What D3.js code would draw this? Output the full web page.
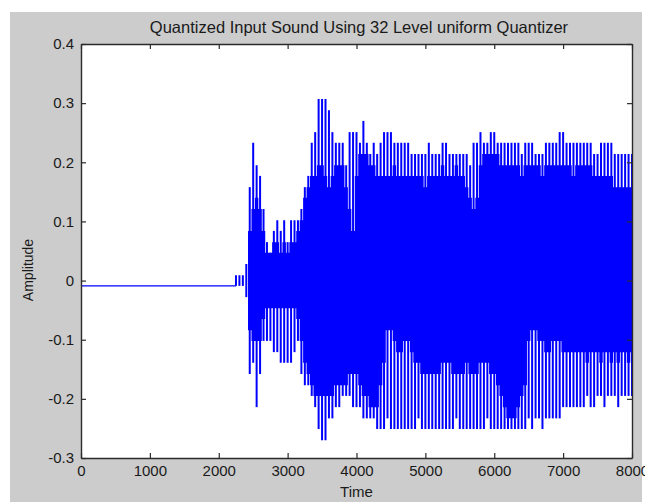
<!DOCTYPE html>
<html>
<head>
<meta charset="utf-8">
<script src="https://cdn.jsdelivr.net/npm/d3@7"></script>
<style>
body { margin: 0; background: #fff; }
</style>
</head>
<body>
<svg></svg>
<script>
var svgWidth = 645;
var svgHeight = 502;
var fontFamily = '"Liberation Sans", Arial, sans-serif';

/* flat part before the sound starts */
var baseTime = [0, 2250];
var baseValue = [-0.009, -0.009];

/* stripes: one every 50 samples from 2250 to 8000 */
var stripeStart = 2250;
var stripeEnd = 8000;
var stripeStep = 50;

/* outer peaks (top of the thin lines) */
var upPeak = [
    0.009, 0.009, 0.009, 0.028, 0.158, 0.233, 0.195, 0.177, 0.121, 0.065,
    0.047, 0.084, 0.102, 0.084, 0.102, 0.065, 0.102, 0.102, 0.102, 0.121,
    0.158, 0.177, 0.233, 0.251, 0.307, 0.307, 0.307, 0.288, 0.251, 0.233,
    0.233, 0.233, 0.195, 0.251, 0.251, 0.251, 0.233, 0.270, 0.233, 0.214,
    0.233, 0.214, 0.233, 0.251, 0.251, 0.251, 0.233, 0.233, 0.233, 0.233,
    0.233, 0.214, 0.214, 0.214, 0.214, 0.214, 0.233, 0.214, 0.214, 0.214,
    0.233, 0.233, 0.214, 0.214, 0.214, 0.214, 0.214, 0.214, 0.195, 0.233,
    0.233, 0.251, 0.233, 0.233, 0.251, 0.251, 0.233, 0.233, 0.233, 0.233,
    0.233, 0.233, 0.233, 0.214, 0.233, 0.233, 0.233, 0.214, 0.214, 0.214,
    0.233, 0.233, 0.233, 0.233, 0.251, 0.251, 0.233, 0.233, 0.233, 0.233,
    0.233, 0.233, 0.233, 0.233, 0.214, 0.214, 0.233, 0.233, 0.233, 0.233,
    0.214, 0.214, 0.214, 0.214, 0.214, 0.214
];

/* top of the solid core */
var upCore = [
    -0.009, -0.009, -0.009, -0.009, 0.084, 0.121, 0.140, 0.121, 0.084, 0.047,
    0.047, 0.065, 0.065, 0.047, 0.065, 0.047, 0.065, 0.065, 0.084, 0.102,
    0.140, 0.158, 0.177, 0.177, 0.195, 0.195, 0.177, 0.158, 0.177, 0.195,
    0.195, 0.195, 0.158, 0.121, 0.084, 0.177, 0.214, 0.214, 0.214, 0.195,
    0.195, 0.177, 0.177, 0.177, 0.177, 0.177, 0.195, 0.177, 0.177, 0.177,
    0.177, 0.177, 0.177, 0.177, 0.177, 0.158, 0.177, 0.177, 0.177, 0.177,
    0.195, 0.177, 0.177, 0.177, 0.195, 0.177, 0.177, 0.158, 0.140, 0.121,
    0.140, 0.195, 0.214, 0.214, 0.214, 0.214, 0.214, 0.195, 0.195, 0.195,
    0.195, 0.195, 0.195, 0.177, 0.195, 0.195, 0.195, 0.195, 0.195, 0.177,
    0.195, 0.195, 0.195, 0.195, 0.195, 0.195, 0.195, 0.195, 0.177, 0.195,
    0.195, 0.195, 0.195, 0.195, 0.177, 0.177, 0.177, 0.177, 0.177, 0.177,
    0.158, 0.158, 0.158, 0.158, 0.158, 0.158
];

/* bottom of the solid core */
var lowCore = [
    -0.009, -0.009, -0.009, -0.009, -0.084, -0.102, -0.102, -0.102, -0.065, -0.047,
    -0.047, -0.047, -0.047, -0.047, -0.047, -0.047, -0.047, -0.047, -0.065, -0.102,
    -0.139, -0.158, -0.177, -0.195, -0.195, -0.195, -0.195, -0.195, -0.195, -0.177,
    -0.177, -0.177, -0.177, -0.158, -0.158, -0.158, -0.177, -0.195, -0.195, -0.214,
    -0.214, -0.214, -0.177, -0.139, -0.084, -0.084, -0.102, -0.121, -0.121, -0.102,
    -0.102, -0.121, -0.139, -0.139, -0.158, -0.158, -0.158, -0.158, -0.158, -0.158,
    -0.139, -0.139, -0.139, -0.158, -0.158, -0.158, -0.158, -0.139, -0.158, -0.158,
    -0.158, -0.139, -0.139, -0.139, -0.158, -0.158, -0.177, -0.195, -0.214, -0.233,
    -0.233, -0.233, -0.214, -0.195, -0.177, -0.102, -0.084, -0.084, -0.102, -0.102,
    -0.121, -0.121, -0.102, -0.102, -0.102, -0.121, -0.121, -0.121, -0.121, -0.121,
    -0.121, -0.121, -0.139, -0.121, -0.121, -0.121, -0.139, -0.121, -0.121, -0.139,
    -0.121, -0.139, -0.121, -0.121, -0.139, -0.121
];

/* outer troughs (bottom of the thin lines) */
var lowPeak = [
    -0.009, -0.009, -0.009, -0.028, -0.158, -0.139, -0.214, -0.158, -0.102, -0.102,
    -0.102, -0.121, -0.121, -0.139, -0.139, -0.139, -0.139, -0.121, -0.102, -0.158,
    -0.177, -0.177, -0.195, -0.214, -0.251, -0.270, -0.270, -0.233, -0.233, -0.214,
    -0.214, -0.195, -0.195, -0.195, -0.214, -0.214, -0.214, -0.233, -0.233, -0.233,
    -0.233, -0.251, -0.251, -0.251, -0.233, -0.251, -0.251, -0.251, -0.251, -0.251,
    -0.251, -0.251, -0.251, -0.233, -0.251, -0.251, -0.251, -0.251, -0.251, -0.251,
    -0.251, -0.251, -0.251, -0.251, -0.233, -0.251, -0.251, -0.251, -0.251, -0.251,
    -0.251, -0.251, -0.251, -0.233, -0.251, -0.251, -0.251, -0.251, -0.251, -0.251,
    -0.251, -0.251, -0.251, -0.251, -0.251, -0.233, -0.251, -0.233, -0.233, -0.251,
    -0.233, -0.233, -0.233, -0.233, -0.233, -0.214, -0.214, -0.214, -0.214, -0.214,
    -0.214, -0.214, -0.195, -0.214, -0.214, -0.195, -0.195, -0.214, -0.195, -0.195,
    -0.195, -0.214, -0.195, -0.195, -0.195, -0.195
];

var xTicks = [0, 1000, 2000, 3000, 4000, 5000, 6000, 7000, 8000];
var yTicks = [-0.3, -0.2, -0.1, 0, 0.1, 0.2, 0.3, 0.4];

var titleText = 'Quantized Input Sound Using 32 Level uniform Quantizer';
var xLabel = 'Time';
var yLabel = 'Amplitude';

var box = {left: 81, right: 632, top: 44, bottom: 458};
var lineColor = '#0000ff';
var axisColor = '#2b2b2b';

var svg = d3.select('svg')
                .attr('width', svgWidth)
                .attr('height', svgHeight)
                .style('display', 'block');

var x = d3.scaleLinear().domain([0, 8000]).range([box.left, box.right]);
var y = d3.scaleLinear().domain([-0.3, 0.4]).range([box.bottom, box.top]);

/* grey figure and white axes */
svg.append('rect')
    .attr('x', 10).attr('y', 12)
    .attr('width', 632).attr('height', 490)
    .attr('fill', '#cccccc');

svg.append('rect')
    .attr('x', box.left).attr('y', box.top)
    .attr('width', box.right - box.left).attr('height', box.bottom - box.top)
    .attr('fill', '#ffffff');

svg.append('clipPath').attr('id', 'plotClip')
    .append('rect')
    .attr('x', box.left).attr('y', box.top)
    .attr('width', box.right - box.left).attr('height', box.bottom - box.top);

var plot = svg.append('g').attr('clip-path', 'url(#plotClip)');

/* flat line before the onset */
plot.append('path')
    .datum(d3.range(baseTime.length))
    .attr('d', d3.line().x(i => x(baseTime[i])).y(i => y(baseValue[i])))
    .attr('fill', 'none')
    .attr('stroke', lineColor)
    .attr('stroke-width', 1.3);

var stripeTime = d3.range(stripeStart, stripeEnd + 1, stripeStep);
var idx = d3.range(Math.min(stripeTime.length, upPeak.length, lowPeak.length, upCore.length, lowCore.length));

/* thin vertical lines above and below */
function drawStripes(cls, peaks){
    plot.selectAll('line.' + cls)
        .data(idx)
        .enter()
        .append('line')
        .attr('class', cls)
        .attr('x1', i => x(stripeTime[i]))
        .attr('x2', i => x(stripeTime[i]))
        .attr('y1', y(baseValue[0]))
        .attr('y2', i => y(peaks[i]))
        .attr('stroke', lineColor)
        .attr('stroke-width', 2);
}
drawStripes('up', upPeak);
drawStripes('low', lowPeak);

/* solid core */
plot.append('path')
    .datum(idx)
    .attr('d', d3.area()
        .x(i => x(stripeTime[i]))
        .y0(i => y(lowCore[i]))
        .y1(i => y(upCore[i]))
        .curve(d3.curveStep))
    .attr('fill', lineColor);

/* axes */
function tickText(d){ return String(+d.toFixed(1)); }

function styleAxis(g){
    g.attr('color', axisColor)
        .attr('font-family', fontFamily)
        .attr('font-size', 15);
    g.select('.domain').attr('stroke-width', 1.4);
    g.selectAll('.tick line').attr('stroke-width', 1.2);
    g.selectAll('.tick text').attr('fill', '#1a1a1a');
}

svg.append('g')
    .attr('transform', `translate(0,${box.bottom})`)
    .call(d3.axisBottom(x).tickValues(xTicks).tickFormat(tickText)
        .tickSizeInner(-5).tickSizeOuter(0).tickPadding(7))
    .call(styleAxis);

svg.append('g')
    .attr('transform', `translate(${box.left},0)`)
    .call(d3.axisLeft(y).tickValues(yTicks).tickFormat(tickText)
        .tickSizeInner(-5).tickSizeOuter(0).tickPadding(7))
    .call(styleAxis);

svg.append('g')
    .attr('transform', `translate(0,${box.top})`)
    .call(d3.axisTop(x).tickValues(xTicks).tickFormat('')
        .tickSizeInner(-5).tickSizeOuter(0))
    .call(styleAxis);

svg.append('g')
    .attr('transform', `translate(${box.right},0)`)
    .call(d3.axisRight(y).tickValues(yTicks).tickFormat('')
        .tickSizeInner(-5).tickSizeOuter(0))
    .call(styleAxis);

/* title and axis labels */
svg.append('text')
    .text(titleText)
    .attr('x', 359)
    .attr('y', 33)
    .attr('text-anchor', 'middle')
    .attr('font-family', fontFamily)
    .attr('font-size', 16.5)
    .attr('fill', '#1a1a1a');

svg.append('text')
    .text(xLabel)
    .attr('x', (box.left + box.right) / 2)
    .attr('y', 497)
    .attr('text-anchor', 'middle')
    .attr('font-family', fontFamily)
    .attr('font-size', 15)
    .attr('fill', '#1a1a1a');

svg.append('text')
    .text(yLabel)
    .attr('transform', 'translate(33,270) rotate(-90)')
    .attr('text-anchor', 'middle')
    .attr('font-family', fontFamily)
    .attr('font-size', 14)
    .attr('fill', '#1a1a1a');
</script>
</body>
</html>
